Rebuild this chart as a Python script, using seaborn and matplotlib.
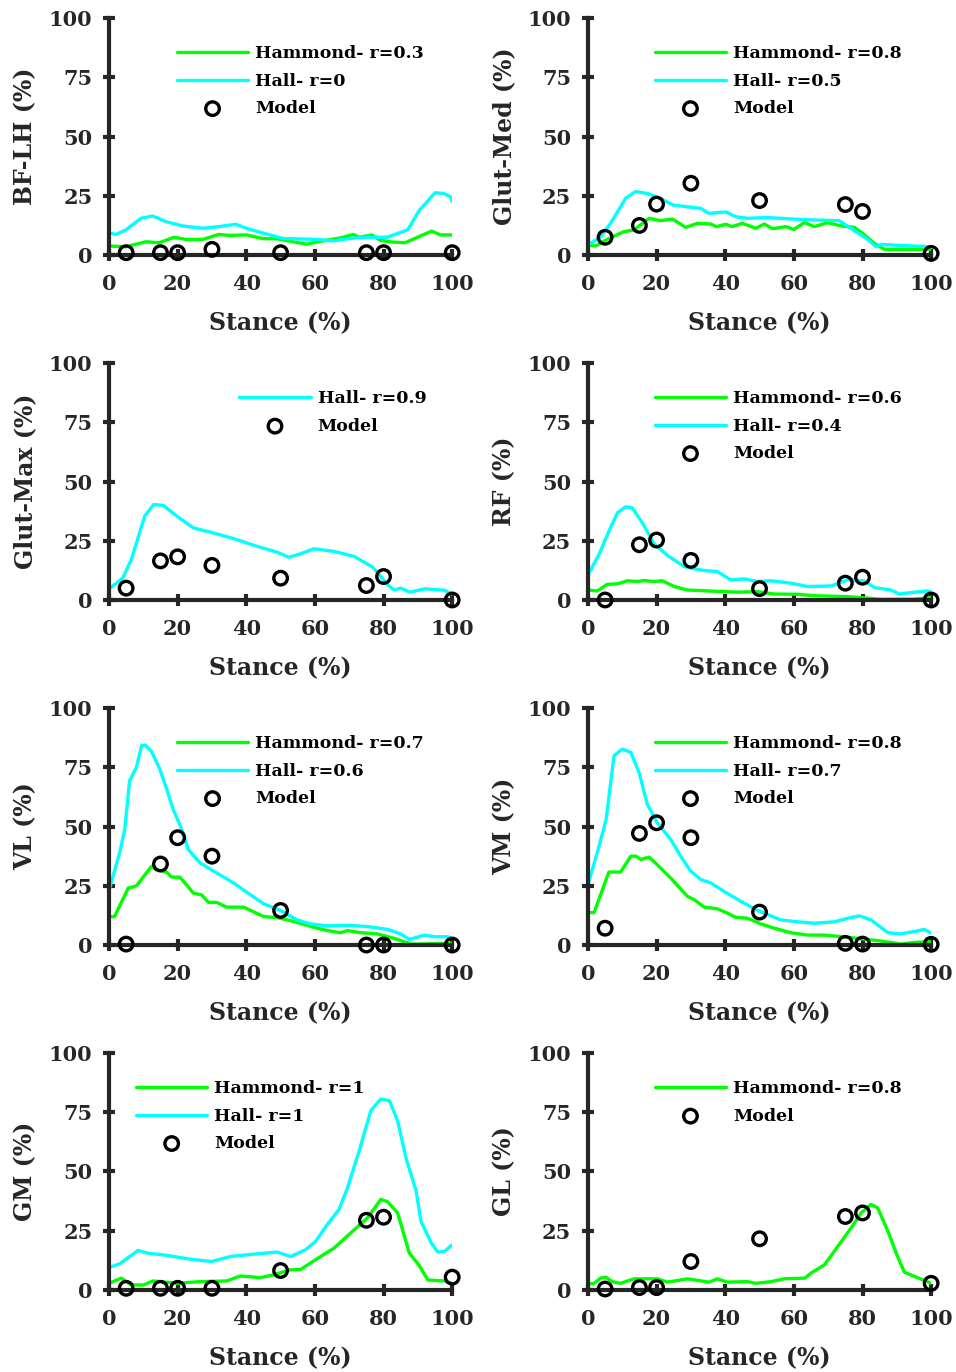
import seaborn as sns
import matplotlib.pyplot as plt

sns.set_style("ticks")
plt.rcParams["font.family"] = ["DejaVu Serif"]
plt.rcParams["font.weight"] = "bold"
plt.rcParams["axes.labelweight"] = "bold"

GREEN = "#00ff00"
CYAN = "#00ffff"
AXC = "#262626"

model_x = [5, 15, 20, 30, 50, 75, 80, 100]

# BF-LH
bflh_hammond_x = [0, 4.9, 10.7, 14.6, 19, 22.4, 27.3, 32, 35, 40, 45, 48.8, 53.7, 57.6, 62.4, 67.3, 71.2, 73, 76.6, 79, 82.4, 86.3, 90.2, 94, 96.6, 100]
bflh_hammond_y = [3.8, 3.5, 5.6, 5.2, 7.5, 6.6, 6.6, 8.7, 8.3, 8.5, 6.9, 6.9, 5.6, 4.6, 6.0, 7.2, 8.7, 7.5, 8.5, 6.3, 5.5, 5.2, 7.7, 10.1, 8.5, 8.5]
bflh_hall_x = [0, 2, 4.9, 9.3, 12.7, 16.6, 21.5, 27.3, 32, 37, 40, 45.8, 50.7, 60.5, 65.4, 70, 75, 81, 87, 90.5, 93, 95, 97.5, 99.5, 100]
bflh_hall_y = [9.4, 8.7, 10.6, 15.5, 16.5, 14.1, 12.3, 11.3, 12, 13, 11.3, 8.9, 7, 6.6, 6, 7, 7.5, 7.5, 10.6, 19, 23, 26.3, 26, 24.6, 22.5]
bflh_model = [1, 1, 1, 2.4, 1, 1, 1, 1]

# Glut-Med
gmed_hammond_x = [0, 2.2, 5.2, 7.6, 10.5, 13.4, 17.8, 21.2, 24.6, 28.5, 31.9, 35.8, 37.4, 40.2, 42, 45, 48.9, 51.4, 53.8, 57.7, 60, 63, 66, 69.8, 73.7, 77.6, 80, 83.5, 86.4, 100]
gmed_hammond_y = [4.2, 3.8, 6.3, 8, 9.9, 10.6, 15.5, 14.5, 15.2, 11.7, 13.4, 13.1, 12, 13, 12, 13.4, 11.3, 13.1, 11.1, 12, 10.8, 13.7, 12, 13.7, 12.3, 11.7, 9.2, 4.9, 2.4, 2.4]
gmed_hall_x = [0, 3.7, 6.6, 11, 13.9, 17.3, 20, 25, 29, 32.9, 35.3, 40.2, 43, 46.5, 52.3, 56.2, 62, 66, 73.2, 76.6, 81.5, 84, 85.4, 93.2, 100]
gmed_hall_y = [4.2, 7.7, 13.4, 24, 26.8, 26, 24.6, 21, 20.4, 19.7, 17.6, 18.2, 16.2, 15.5, 15.8, 15.5, 15, 14.8, 14.5, 11.3, 6.6, 3.5, 4.5, 3.9, 3.5]
gmed_model = [7.5, 12.5, 21.5, 30.3, 23, 21.3, 18.4, 0.7]

# Glut-Max
gmax_hall_x = [0, 4, 6.5, 10.4, 13, 15.8, 20.2, 24.6, 30.4, 36.3, 44.1, 49, 52.4, 55.8, 59.7, 65.6, 71.4, 76.8, 79.2, 81.2, 83.1, 85, 87.6, 92, 97.8, 100]
gmax_hall_y = [4.7, 9.2, 17, 35.4, 40.3, 39.9, 34.9, 30.4, 28.3, 25.9, 22.2, 20.2, 18, 19.5, 21.6, 20.5, 18.4, 13.9, 9.9, 6.4, 4.2, 5, 3.3, 4.7, 4.1, 2.4]
gmax_model = [5, 16.5, 18.2, 14.6, 9.2, 6.1, 9.9, 0]

# RF
rf_hammond_x = [0, 2.7, 5.6, 8.6, 11.5, 14.4, 16.3, 19.3, 21.7, 25.1, 29, 36.8, 43.6, 49.4, 54.3, 61.1, 66, 75.7, 79.6, 85.4, 95.1, 100]
rf_hammond_y = [4.2, 3.8, 6.6, 6.8, 8.1, 7.8, 8.2, 7.8, 8.1, 5.7, 4.2, 3.7, 3.3, 3.5, 2.5, 2.4, 1.8, 1.4, 1, 0.3, 0.4, 1]
rf_hall_x = [0, 3.2, 6.1, 8.6, 11, 12.9, 15.9, 19.3, 23.2, 28, 31.9, 34.8, 37.7, 41.6, 45.5, 49.4, 53.3, 59.1, 64, 70.8, 75.7, 80.5, 83.5, 88.3, 90.8, 95.1, 99, 100]
rf_hall_y = [10.6, 19.1, 29, 36.8, 39.3, 38.9, 32.5, 23.6, 18.8, 14.1, 12.9, 12.3, 12, 8.5, 8.9, 7.8, 8.1, 7.1, 5.7, 5.9, 8.5, 8.1, 5.2, 4.2, 2.5, 3.3, 3.8, 3.3]
rf_model = [0, 23.3, 25.3, 16.7, 4.8, 7.1, 9.6, 0]

# VL
vl_hammond_x = [0, 1.6, 5.6, 8, 10.9, 12.4, 13.8, 16.8, 18.2, 20.7, 24.6, 27, 29, 31.4, 34.3, 39.2, 45.1, 49, 53.9, 59.7, 63.6, 67.5, 69.5, 73.4, 78.2, 83.1, 88, 100]
vl_hammond_y = [12, 12, 24, 25, 30.4, 33.2, 31.8, 30.8, 28.7, 28.6, 21.9, 21.2, 18, 18, 16, 16, 12, 11.6, 9.9, 7.5, 6.1, 5.2, 6.1, 5.2, 4.7, 2.8, 0.4, 0.7]
vl_hall_x = [0, 3.1, 4.6, 6, 8, 9.5, 10.6, 12.4, 14.8, 16.8, 18.7, 21.2, 23.1, 26.5, 31.4, 36.3, 40.2, 45.1, 50, 54.8, 58.7, 63.6, 70.4, 75.3, 81.2, 85, 87.5, 92, 94.8, 98.7, 100]
vl_hall_y = [23, 38.9, 48.8, 69.3, 75, 84.2, 84.4, 81.6, 74.3, 65.8, 57.3, 48.8, 40.3, 34.7, 30.4, 26.2, 22.2, 17.4, 14.6, 10.6, 8.9, 8.1, 8.3, 7.8, 6.6, 4.7, 2.4, 4.2, 3.5, 3.5, 2.8]
vl_model = [0.4, 34.2, 45.3, 37.5, 14.6, 0, 0, 0]

# VM
vm_hammond_x = [0, 1.8, 6.1, 9.5, 12.5, 14, 15.4, 17.8, 20.2, 24.1, 29, 31, 33.9, 37.7, 40.7, 43.1, 46.5, 50.4, 54.3, 59.1, 64, 68.9, 75.7, 80.5, 85.4, 91.2, 95.1, 100]
vm_hammond_y = [13.7, 13.7, 30.8, 30.8, 37.5, 37.5, 36.1, 37.1, 33.9, 28.3, 20.5, 19.1, 16, 15.3, 13.4, 11.7, 11.3, 8.9, 7.1, 5.2, 4.2, 4.2, 3.3, 2.5, 1.7, 0.4, 1.1, 1.4]
vm_hall_x = [0, 2.7, 5.3, 7.6, 10, 12.5, 14.9, 17.3, 20.2, 24.1, 27, 30, 32.9, 35.8, 39.7, 44.6, 49.4, 56.2, 61.1, 66, 71.8, 75.7, 79.1, 82.5, 87.4, 91.2, 95.1, 98, 100]
vm_hall_y = [25.5, 38.9, 53, 79.9, 82.7, 81.3, 72.8, 59.4, 51.6, 44.6, 37.5, 31.1, 27.6, 26.2, 22.6, 18.4, 14.6, 10.6, 9.8, 9.2, 9.8, 11.3, 12.3, 10.6, 5.2, 4.7, 5.7, 6.6, 5]
vm_model = [7.1, 47.1, 51.6, 45.3, 13.9, 0.7, 0.4, 0.3]

# GM
gm_hammond_x = [0, 3.6, 6.5, 10, 12.9, 19.7, 26.5, 34.3, 38.2, 44.1, 48, 52.9, 55.8, 59.7, 65.6, 70.4, 75.3, 79.2, 81.2, 84.1, 87.5, 90.4, 92.9, 97.8, 100]
gm_hammond_y = [2.8, 5, 2.1, 2.1, 3.8, 2.8, 3.5, 3.8, 5.9, 5.2, 6.4, 8.5, 8.6, 12.3, 17.7, 24, 30.4, 38.2, 37.2, 32.5, 15.6, 10.3, 4.2, 3.8, 2.8]
gm_hall_x = [0, 3.1, 6, 8.5, 11, 16.8, 23.6, 29.9, 35.3, 42.1, 49, 52.9, 57.3, 60.2, 63.6, 67, 69.5, 72.9, 76.3, 79.2, 81.7, 84.1, 86.5, 89.5, 90.9, 93.9, 95.8, 97.8, 100]
gm_hall_y = [9.5, 11, 14.1, 16.7, 15.6, 14.6, 13, 12, 14.1, 15.1, 16, 14.1, 17, 20.5, 27.6, 33.9, 43.1, 58.7, 75.7, 80.6, 79.9, 71.4, 55.9, 41.7, 29, 19.8, 16, 16.3, 19.1]
gm_model = [0.7, 0.7, 0.7, 0.7, 8.2, 29.4, 30.7, 5.4]

# GL
gl_hammond_x = [0, 1.8, 3.7, 5.2, 7.1, 9.5, 13.4, 20.2, 23.2, 29, 35.3, 37.7, 40.6, 46.5, 48.9, 53.3, 57.2, 63.2, 65, 68.9, 72.8, 76.7, 79.6, 82.5, 84.4, 87.4, 89.8, 92.2, 100]
gl_hammond_y = [2.5, 2.8, 5, 5.4, 3.5, 2.8, 4.7, 4.7, 3.3, 4.7, 3.3, 4.7, 3.3, 3.5, 2.8, 3.5, 4.7, 5, 7.1, 10.6, 18.4, 26.2, 32.5, 36.1, 34.7, 24.8, 15.6, 7.5, 2.8]
gl_model = [0.4, 1, 1, 12, 21.6, 31, 32.5, 2.8]

panels = [
    ("BF-LH (%)", (bflh_hammond_x, bflh_hammond_y, "Hammond- r=0.3"), (bflh_hall_x, bflh_hall_y, "Hall- r=0"), bflh_model, 0.198),
    ("Glut-Med (%)", (gmed_hammond_x, gmed_hammond_y, "Hammond- r=0.8"), (gmed_hall_x, gmed_hall_y, "Hall- r=0.5"), gmed_model, 0.195),
    ("Glut-Max (%)", None, (gmax_hall_x, gmax_hall_y, "Hall- r=0.9"), gmax_model, 0.38),
    ("RF (%)", (rf_hammond_x, rf_hammond_y, "Hammond- r=0.6"), (rf_hall_x, rf_hall_y, "Hall- r=0.4"), rf_model, 0.195),
    ("VL (%)", (vl_hammond_x, vl_hammond_y, "Hammond- r=0.7"), (vl_hall_x, vl_hall_y, "Hall- r=0.6"), vl_model, 0.198),
    ("VM (%)", (vm_hammond_x, vm_hammond_y, "Hammond- r=0.8"), (vm_hall_x, vm_hall_y, "Hall- r=0.7"), vm_model, 0.195),
    ("GM (%)", (gm_hammond_x, gm_hammond_y, "Hammond- r=1"), (gm_hall_x, gm_hall_y, "Hall- r=1"), gm_model, 0.079),
    ("GL (%)", (gl_hammond_x, gl_hammond_y, "Hammond- r=0.8"), None, gl_model, 0.195),
]

fig = plt.figure(figsize=(9.56, 13.72), dpi=100)
lefts = [0.114, 0.615]
bottoms = [0.8141, 0.5627, 0.3112, 0.0598]
w, h = 0.359, 0.1727

for i, (ylab, ham, hall, model_y, lx) in enumerate(panels):
    ax = fig.add_axes([lefts[i % 2], bottoms[i // 2], w, h])
    if ham is not None:
        sns.lineplot(x=ham[0], y=ham[1], ax=ax, color=GREEN, lw=2.4, label=ham[2], sort=False, estimator=None)
    if hall is not None:
        sns.lineplot(x=hall[0], y=hall[1], ax=ax, color=CYAN, lw=2.4, label=hall[2], sort=False, estimator=None)
    sns.scatterplot(x=model_x, y=model_y, ax=ax, marker="o", s=95, facecolor="none",
                    edgecolor="black", linewidth=2.4, label="Model", clip_on=False, zorder=5)

    ax.set_xlim(0, 100)
    ax.set_ylim(0, 100)
    ax.set_xticks([0, 20, 40, 60, 80, 100])
    ax.set_yticks([0, 25, 50, 75, 100])
    sns.despine(ax=ax)
    for s in ["left", "bottom"]:
        ax.spines[s].set_linewidth(3)
        ax.spines[s].set_color(AXC)
    ax.tick_params(direction="inout", length=8, width=3, color=AXC, labelsize=15,
                   labelcolor=AXC, pad=8)
    ax.tick_params(axis="x", pad=10)
    ax.set_xlabel("Stance (%)", fontsize=17, color=AXC, labelpad=12)
    ax.set_ylabel(ylab, fontsize=17, color=AXC, labelpad=8)

    leg = ax.legend(loc="upper left", bbox_to_anchor=(lx, 0.885), frameon=False,
                    fontsize=12.5, handlelength=4.1, handletextpad=0.4,
                    labelspacing=0.6, borderpad=0, borderaxespad=0)
    for t in leg.get_texts():
        t.set_color("black")

fig.savefig("out.png", dpi=100)
